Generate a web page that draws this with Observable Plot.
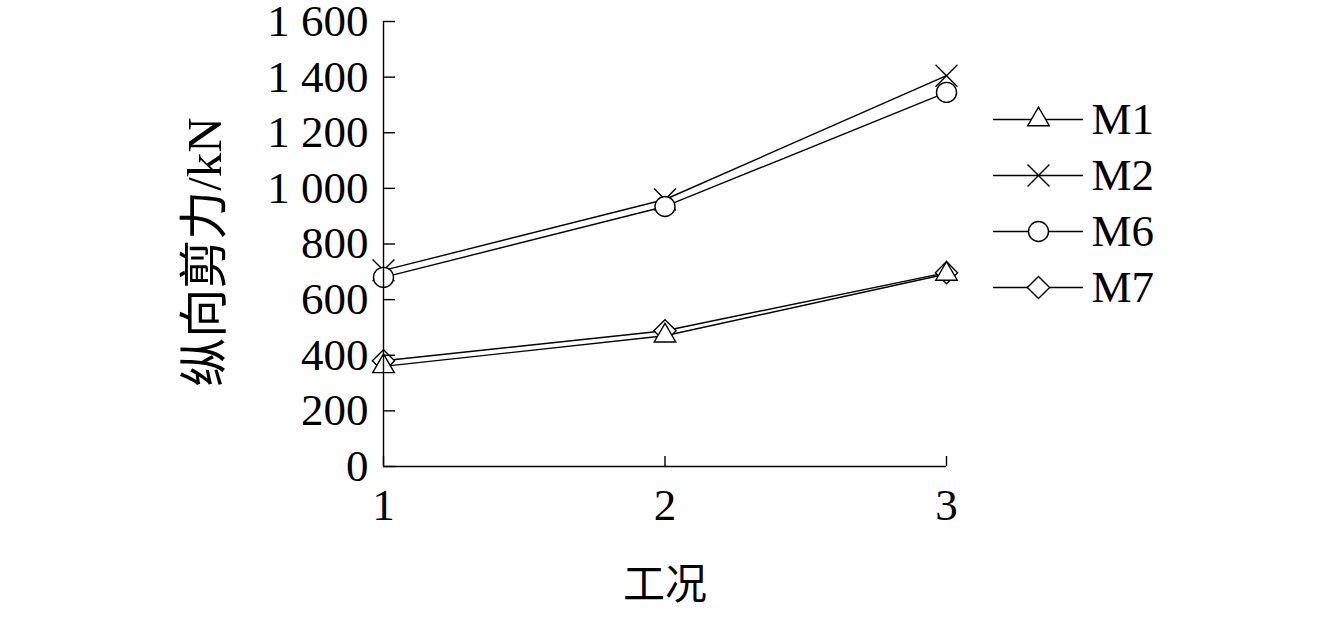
<!DOCTYPE html>
<html><head><meta charset="utf-8">
<script src="https://cdn.jsdelivr.net/npm/d3@7"></script>
<script src="https://cdn.jsdelivr.net/npm/@observablehq/plot@0.6"></script>
<style>
html,body{margin:0;padding:0;background:#fff;}
#wrap{position:relative;width:1342px;height:642px;}
#wrap > svg{position:absolute;left:0;top:0;overflow:visible;}
</style></head><body><div id="wrap"></div>
<script>
// ---- data ----
const cases = [1, 2, 3];
const seriesNames = ["M1", "M2", "M6", "M7"];
const seriesSymbols = ["triangle", "times", "circle", "diamond2"];
const M1 = [360, 470, 692];
const M2 = [705, 960, 1405];
const M6 = [680, 935, 1345];
const M7 = [380, 488, 697];
const yTicks = [0, 200, 400, 600, 800, 1000, 1200, 1400, 1600];
const xLabel = "工况";
const yLabel = "纵向剪力/kN";

const seriesValues = [M1, M2, M6, M7];
const symbolR = [8, 10, 10, 10];
const data = seriesNames.flatMap((s, j) => cases.map((c, i) => ({case: c, series: s, value: seriesValues[j][i]})));

const fmt = d3.formatLocale({decimal: ".", thousands: " ", grouping: [3], currency: ["", ""]}).format(",");
const serif = "'Liberation Serif', 'Noto Sans CJK SC', serif";
const sw = 1.4;

const dotMarks = (rows, xAcc, yAcc) => seriesNames.map((s, j) =>
  Plot.dot(rows.filter(d => d.series === s), {
    x: xAcc, y: yAcc, symbol: seriesSymbols[j], r: symbolR[j],
    stroke: "#000", fill: "#fff", strokeWidth: sw
  }));

// draw diamond before triangle so triangle edges show over it
const order = [3, 1, 2, 0];

const main = Plot.plot({
  width: 1342, height: 642,
  marginLeft: 383, marginRight: 396, marginTop: 21, marginBottom: 176,
  style: {fontFamily: serif, fontSize: "45px", color: "#000", background: "#fff", overflow: "visible"},
  x: {domain: [1, 3]},
  y: {domain: [0, 1600]},
  marks: [
    Plot.line(data, {x: "case", y: "value", z: "series", stroke: "#000", strokeWidth: sw}),
    ...order.map(j => dotMarks(data, "case", "value")[j]),
    Plot.ruleX([cases[0]], {stroke: "#000", strokeWidth: sw}),
    Plot.ruleY([0], {stroke: "#000", strokeWidth: sw}),
    Plot.axisY({ticks: yTicks, tickSize: 12, dx: 12, tickFormat: () => "", label: null, strokeWidth: sw}),
    Plot.axisY({ticks: yTicks, tickSize: 0, tickPadding: 15, tickFormat: fmt, label: null, fontSize: 45}),
    Plot.axisX({ticks: cases, tickSize: 10, dy: -10, tickFormat: () => "", label: null, strokeWidth: sw}),
    Plot.axisX({ticks: cases, tickSize: 0, tickPadding: 22, tickFormat: d => String(d), label: null, fontSize: 45}),
    Plot.text([xLabel], {frameAnchor: "bottom", lineAnchor: "middle", textAnchor: "middle", dy: 119, text: d => d, fontSize: 42, fontFamily: serif}),
    Plot.text([yLabel], {frameAnchor: "left", lineAnchor: "middle", textAnchor: "middle", dx: -178, dy: 8, rotate: -90, text: d => d, fontSize: 49, fontFamily: serif})
  ]
});

const legendRows = seriesNames.map(s => ({series: s, pos: 0.5}));
const legend = Plot.plot({
  width: 1342, height: 642, margin: 0,
  style: {fontFamily: serif, fontSize: "45px", color: "#000", background: "transparent"},
  x: {domain: [0, 1], range: [993, 1083], axis: null},
  y: {type: "point", domain: seriesNames, range: [119, 287], padding: 0, axis: null},
  marks: [
    Plot.ruleY(seriesNames, {y: d => d, x1: 0, x2: 1, stroke: "#000", strokeWidth: sw}),
    ...dotMarks(legendRows, "pos", "series"),
    Plot.text(seriesNames, {y: d => d, x: 1, dx: 8, textAnchor: "start", text: d => d, fontSize: 45})
  ]
});

document.getElementById("wrap").append(main, legend);
</script></body></html>
